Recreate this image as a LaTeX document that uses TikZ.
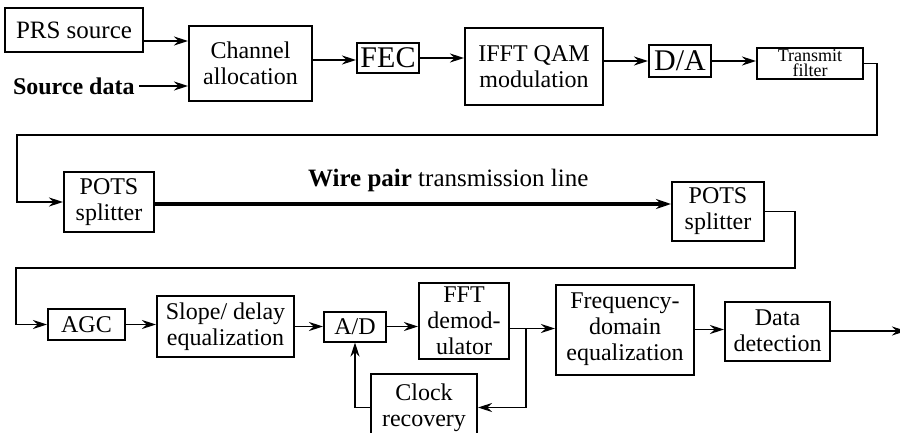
\documentclass[tikz,border=0pt]{standalone}
\usepackage{fontspec}
\setmainfont{Liberation Serif}
\usetikzlibrary{
    arrows.meta,
    positioning
}

\begin{document}
\begin{tikzpicture}[
    x=0.5pt, y=-0.5pt,
    blk/.style={draw, line width=1pt, inner sep=1pt, align=center, font=\fontsize{12}{13}\selectfont},
    big/.style={blk, font=\fontsize{15}{15}\selectfont},
    tiny/.style={blk, inner sep=0pt, font=\fontsize{9}{7.5}\selectfont},
    arrow/.style={-{Stealth[length=7pt,width=4.5pt]}, line width=0.9pt},
    wire/.style={-{Stealth[length=7.5pt,width=5pt]}, line width=1.8pt}
]
\useasboundingbox (0,0) rectangle (900,433);
\clip (0,0) rectangle (900,433);

% Transmitter
\node[blk, minimum width=69pt, minimum height=22pt, font=\fontsize{12.5}{13}\selectfont] (prs) at (74,30) {PRS source};
\node[anchor=east, inner sep=2pt, font=\bfseries\fontsize{12}{13}\selectfont] (src) at (139,86) {Source data};
\node[blk, minimum width=61.5pt, minimum height=37.5pt, right=22pt of prs, yshift=-16.75pt] (chan) {Channel\\allocation};
\node[big, minimum width=31pt, minimum height=15pt, right=21.5pt of chan, yshift=2.75pt] (fec) {FEC};
\node[blk, minimum width=69pt, minimum height=38.5pt, right=22pt of fec, yshift=-4.25pt] (ifft) {IFFT QAM\\modulation};
\node[big, minimum width=31pt, minimum height=16pt, right=22pt of ifft, yshift=2.75pt] (da) {D/A};
\node[tiny, minimum width=53pt, minimum height=15.5pt, right=22pt of da, yshift=-1.25pt] (txf) {Transmit\\filter};

% Line
\node[blk, minimum width=45pt, minimum height=30pt] (pots1) at (109,202) {POTS\\splitter};
\node[blk, minimum width=46pt, minimum height=29.5pt, right=258pt of pots1, yshift=-4.75pt] (pots2) {POTS\\splitter};
\node[anchor=west, font=\fontsize{12.5}{13}\selectfont] (wirelbl) at ([xshift=73pt, yshift=11pt]pots1.east) {\textbf{Wire pair} transmission line};

% Receiver
\node[blk, minimum width=38.5pt, minimum height=15.5pt] (agc) at (86.5,324.5) {AGC};
\node[blk, minimum width=68.5pt, minimum height=30.5pt, right=15pt of agc, yshift=-1pt] (slope) {Slope/ delay\\equalization};
\node[blk, minimum width=31pt, minimum height=15pt, right=14pt of slope] (ad) {A/D};
\node[blk, minimum width=45pt, minimum height=38pt, right=15.5pt of ad, yshift=3pt] (fft) {FFT\\demod-\\ulator};
\node[blk, minimum width=69pt, minimum height=45pt, right=22.5pt of fft, yshift=-4.5pt] (feq) {Frequency-\\domain\\equalization};
\node[blk, minimum width=52.5pt, minimum height=29.5pt, right=14.5pt of feq, yshift=-0.75pt] (det) {Data\\detection};
\node[blk, minimum width=53pt, minimum height=34pt, below=15pt of ad, xshift=34.5pt] (clk) {Clock\\recovery};
\coordinate[right=37.5pt of det] (out);
\coordinate (branch) at ([xshift=8pt, yshift=-4pt]fft.east);

\draw[arrow] ([yshift=-5.5pt]prs.east) -- ([yshift=-5.5pt]prs.east -| chan.west);
\draw[arrow] (src.east) -- (src.east -| chan.west);
\draw[arrow] ([yshift=1.75pt]chan.east) -- ([yshift=1.75pt]chan.east -| fec.west);
\draw[arrow] (fec.east) -- (fec.east -| ifft.west);
\draw[arrow] (da.west -| ifft.east) -- (da.west);
\draw[arrow] (da.east) -- (da.east -| txf.west);
\draw[arrow] (txf.east) -- ++(6.5pt,0) -- ++(0,-35.75pt) -| ([xshift=-23pt]pots1.west) -- (pots1.west);

\draw[wire] ([yshift=-1pt]pots1.east) -- ([yshift=-1pt]pots1.east -| pots2.west);

\draw[arrow] (pots2.east) -- ++(15pt,0) -- ++(0,-28.25pt) -| ([xshift=-15.5pt]agc.west) -- (agc.west);
\draw[arrow] (agc.east) -- (agc.east -| slope.west);
\draw[arrow] (slope.east) -- (slope.east -| ad.west);
\draw[arrow] (ad.east) -- (ad.east -| fft.west);
\draw[arrow] ([yshift=-4pt]fft.east) -- (branch -| feq.west);
\draw[arrow] (branch) |- (clk.east);
\draw[arrow] (clk.west) -| (ad.south);
\draw[arrow] (feq.east) -- (feq.east -| det.west);
\draw[arrow] (det.east) -- (out);
\end{tikzpicture}
\end{document}
